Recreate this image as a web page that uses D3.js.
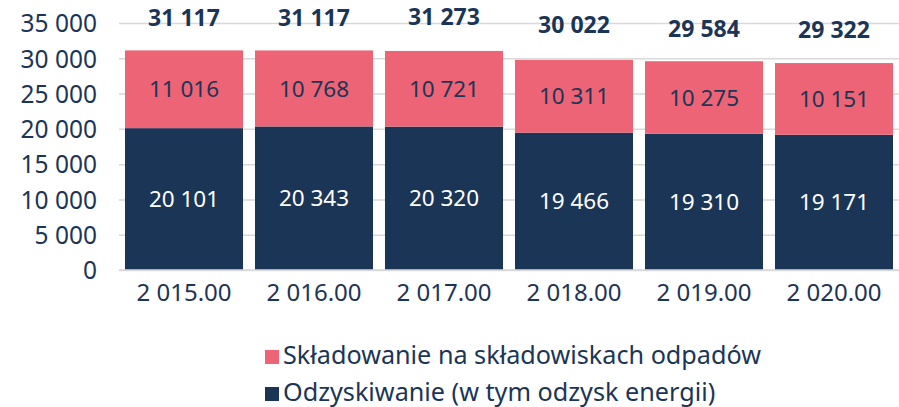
<!DOCTYPE html>
<html>
<head>
<meta charset="utf-8">
<script src="https://cdn.jsdelivr.net/npm/d3@7"></script>
<style>
  html, body { margin: 0; padding: 0; background: #ffffff; }
  svg text { font-family: "Noto Sans", "Open Sans", sans-serif; }
</style>
</head>
<body>
<svg id="chart" width="899" height="407"></svg>
<script>
// Waste management volumes by year (two stacked components) and stated totals
const years = ["2 015.00", "2 016.00", "2 017.00", "2 018.00", "2 019.00", "2 020.00"];
const recovery = [20101, 20343, 20320, 19466, 19310, 19171];
const landfill = [11016, 10768, 10721, 10311, 10275, 10151];
const totals = [31117, 31117, 31273, 30022, 29584, 29322];
const yTicks = [0, 5000, 10000, 15000, 20000, 25000, 30000, 35000];
const seriesNames = ["Składowanie na składowiskach odpadów", "Odzyskiwanie (w tym odzysk energii)"];

const navy = "#1b3556";
const pink = "#ec6475";
const grid = "#d9d9d9";

const fmt = v => d3.format(",")(v).replace(/,/g, " ");

const svg = d3.select("#chart");

const x = d3.scaleBand()
  .domain(years)
  .range([119, 899])
  .paddingInner(0.092)
  .paddingOuter(0.046);

const y = d3.scaleLinear()
  .domain([0, 35000])
  .range([270, 23]);

// horizontal gridlines with value labels
const yAxis = d3.axisLeft(y)
  .tickValues(yTicks)
  .tickSize(-(899 - 119))
  .tickPadding(22)
  .tickFormat(fmt);

const gy = svg.append("g")
  .attr("transform", "translate(119,0)")
  .call(yAxis);
gy.select(".domain").remove();
gy.selectAll(".tick line").attr("stroke", grid).attr("stroke-width", 1.5);
gy.selectAll(".tick text")
  .attr("fill", navy)
  .attr("font-size", 24.5)
  .attr("x", -22)
  .attr("dy", "0.36em");

// stacked bars
const rows = years.map((yr, i) => ({ year: yr, recovery: recovery[i], landfill: landfill[i] }));
const stack = d3.stack().keys(["recovery", "landfill"]);
const layers = stack(rows);
const colors = { recovery: navy, landfill: pink };
const labelColors = { recovery: "#ffffff", landfill: navy };

layers.forEach(layer => {
  const g = svg.append("g");
  g.selectAll("rect")
    .data(layer)
    .join("rect")
    .attr("x", d => x(d.data.year))
    .attr("width", x.bandwidth())
    .attr("y", d => y(d[1]))
    .attr("height", d => y(d[0]) - y(d[1]))
    .attr("fill", colors[layer.key]);
  g.selectAll("text")
    .data(layer)
    .join("text")
    .attr("x", d => x(d.data.year) + x.bandwidth() / 2)
    .attr("y", d => (y(d[0]) + y(d[1])) / 2)
    .attr("dy", "0.36em")
    .attr("text-anchor", "middle")
    .attr("font-size", 22.5)
    .attr("fill", labelColors[layer.key])
    .text(d => fmt(d.data[layer.key]));
});

// baseline
svg.append("line")
  .attr("x1", 119).attr("x2", 899)
  .attr("y1", y(0)).attr("y2", y(0))
  .attr("stroke", grid).attr("stroke-width", 1.5);

// totals above bars
svg.append("g").selectAll("text")
  .data(years)
  .join("text")
  .attr("x", d => x(d) + x.bandwidth() / 2)
  .attr("y", (d, i) => y(totals[i]) - 33)
  .attr("dy", "0.36em")
  .attr("text-anchor", "middle")
  .attr("font-size", 23)
  .attr("font-weight", 700)
  .attr("fill", navy)
  .text((d, i) => fmt(totals[i]));

// category axis
const xAxis = d3.axisBottom(x).tickSize(0).tickPadding(14);
const gx = svg.append("g")
  .attr("transform", `translate(0,${y(0)})`)
  .call(xAxis);
gx.select(".domain").remove();
gx.selectAll(".tick text")
  .attr("fill", navy)
  .attr("font-size", 24);

// legend
const legend = svg.append("g").attr("transform", "translate(265,0)");
const legendItems = [
  { name: seriesNames[0], color: pink, base: 364 },
  { name: seriesNames[1], color: navy, base: 401 }
];
legendItems.forEach(it => {
  legend.append("rect")
    .attr("x", 0).attr("y", it.base - 14)
    .attr("width", 14).attr("height", 14)
    .attr("fill", it.color);
  legend.append("text")
    .attr("x", 18).attr("y", it.base)
    .attr("font-size", 25.2)
    .attr("fill", navy)
    .text(it.name);
});
</script>
</body>
</html>
